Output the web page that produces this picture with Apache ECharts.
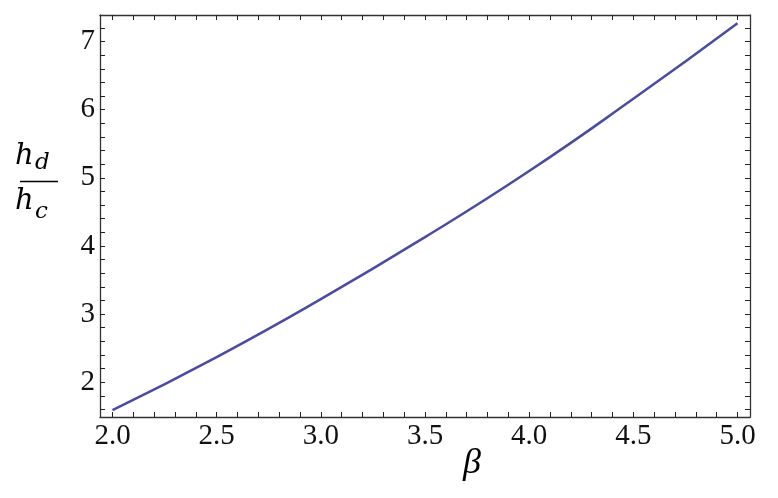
<!DOCTYPE html>
<html>
<head>
    <meta charset="utf-8">
    <title>h_d / h_c vs beta</title>
    <script src="https://cdn.jsdelivr.net/npm/echarts@6/dist/echarts.min.js"></script>
    <style>
        html, body { margin: 0; padding: 0; background: #fff; }
    </style>
</head>
<body>
    <div id="main" style="width: 778px;height:498px;"></div>
    <script type="text/javascript">
    // data
    var betaValues = [2.0, 2.5, 3.0, 3.5, 4.0, 4.5, 5.0];
    var ratioValues = [1.59, 2.37, 3.22, 4.13, 5.10, 6.16, 7.27];

    // tick labels
    var xLabelValues = [2.0, 2.5, 3.0, 3.5, 4.0, 4.5, 5.0];
    var yLabelValues = [2, 3, 4, 5, 6, 7];
    var xTickValues = [2.0, 2.1, 2.2, 2.3, 2.4, 2.5, 2.6, 2.7, 2.8, 2.9, 3.0, 3.1, 3.2, 3.3, 3.4, 3.5,
        3.6, 3.7, 3.8, 3.9, 4.0, 4.1, 4.2, 4.3, 4.4, 4.5, 4.6, 4.7, 4.8, 4.9, 5.0];
    var yTickValues = [1.6, 1.8, 2.0, 2.2, 2.4, 2.6, 2.8, 3.0, 3.2, 3.4, 3.6, 3.8, 4.0, 4.2, 4.4, 4.6,
        4.8, 5.0, 5.2, 5.4, 5.6, 5.8, 6.0, 6.2, 6.4, 6.6, 6.8, 7.0, 7.2];

    var serif = '"Liberation Serif", "DejaVu Serif", serif';
    var mathFont = '"DejaVu Serif", serif';
    var frameColor = '#333';

    function frameAxis(pos, ticks, labels, dim) {
        return {
            type: 'value',
            position: pos,
            min: dim == 'x' ? 1.94 : 1.49,
            max: dim == 'x' ? 5.06 : 7.39,
            splitLine: { show: false },
            axisLine: { show: true, onZero: false, lineStyle: { color: frameColor, width: 1.3 } },
            axisTick: {
                show: true, inside: true, length: 5,
                customValues: ticks,
                lineStyle: { color: '#222', width: 1 }
            },
            axisLabel: labels ? {
                show: true,
                customValues: labels,
                margin: 5,
                color: '#111',
                fontFamily: serif,
                fontSize: 29,
                formatter: function (v) { return dim == 'x' ? v.toFixed(1) : String(v); }
            } : { show: false }
        };
    }

    var myChart = echarts.init(document.getElementById('main'));

    var option = {
        animation: false,
        backgroundColor: '#fff',
        grid: { left: 100, right: 28, top: 15, bottom: 81, containLabel: false },
        xAxis: [
            frameAxis('bottom', xTickValues, xLabelValues, 'x'),
            frameAxis('top', xTickValues, null, 'x')
        ],
        yAxis: [
            frameAxis('left', yTickValues, yLabelValues, 'y'),
            frameAxis('right', yTickValues, null, 'y')
        ],
        series: [{
            type: 'line',
            xAxisIndex: 0,
            yAxisIndex: 0,
            data: betaValues.map(function (b, i) { return [b, ratioValues[i]]; }),
            smooth: true,
            showSymbol: false,
            lineStyle: { color: '#4b4ba3', width: 2.5 }
        }],
        graphic: [
            // y label as a fraction h_d / h_c
            { type: 'text', left: 15, top: 142, style: { text: 'h', font: 'italic 29px ' + mathFont, fill: '#000' } },
            { type: 'text', left: 35, top: 152, style: { text: 'd', font: 'italic 23px ' + mathFont, fill: '#000' } },
            { type: 'line', shape: { x1: 20, y1: 181.5, x2: 58, y2: 181.5 }, style: { stroke: '#000', lineWidth: 1.4 } },
            { type: 'text', left: 15, top: 187, style: { text: 'h', font: 'italic 29px ' + mathFont, fill: '#000' } },
            { type: 'text', left: 35, top: 201, style: { text: 'c', font: 'italic 23px ' + mathFont, fill: '#000' } },
            // x label
            { type: 'text', left: 463, top: 446, style: { text: 'β', font: 'italic 36px ' + serif, fill: '#000' } }
        ]
    };

    myChart.setOption(option);
    </script>
</body>
</html>
